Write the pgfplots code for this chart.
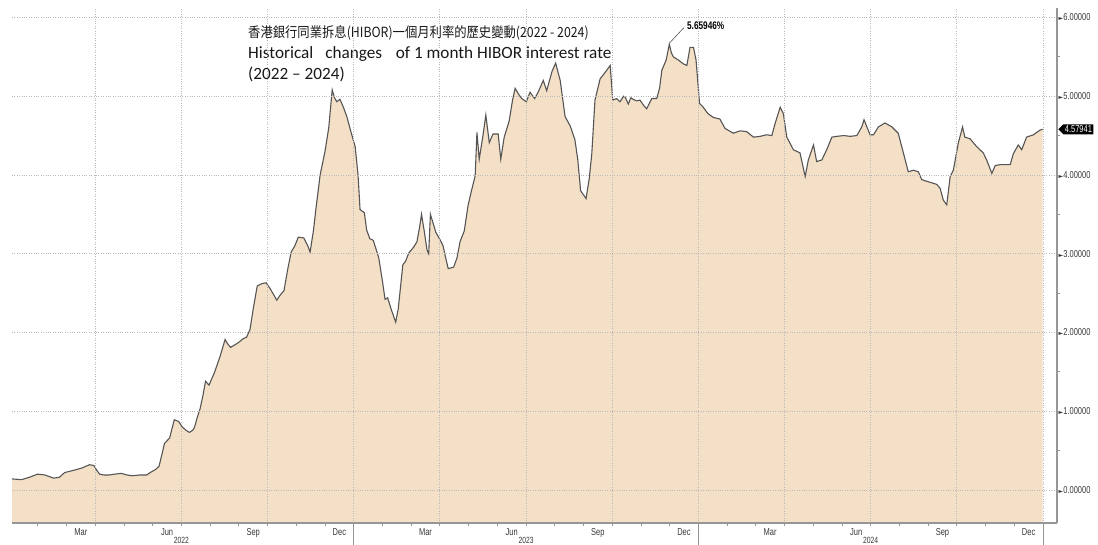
\documentclass[border=0pt]{standalone}
\usepackage{fontspec}
\setmainfont{Carlito}
\newfontfamily\cjk[FakeStretch=0.88]{Noto Sans CJK TC}
\newfontfamily\bbg[FakeStretch=0.75]{Liberation Sans}
\newfontfamily\dv{DejaVu Sans}
\usepackage{pgfplots}
\usepackage{pgfplotstable}
\pgfplotsset{compat=1.18}
\usepgfplotslibrary{fillbetween}
\usetikzlibrary{shapes.symbols}

\definecolor{peach}{RGB}{244,224,198}
\definecolor{linegray}{RGB}{85,85,85}
\definecolor{gridgray}{RGB}{185,185,185}
\definecolor{axgray}{RGB}{150,150,150}
\definecolor{labgray}{RGB}{55,55,55}
\definecolor{titlec}{RGB}{25,25,25}

% 1-month HIBOR, months since 1 Jan 2022
\pgfplotstableread{
m v
0.10 0.14
0.43 0.13
0.70 0.16
0.99 0.20
1.24 0.19
1.55 0.15
1.75 0.16
1.93 0.22
2.15 0.24
2.36 0.26
2.55 0.28
2.67 0.30
2.80 0.32
2.95 0.31
3.05 0.25
3.15 0.20
3.29 0.19
3.50 0.19
3.66 0.20
3.91 0.21
4.10 0.19
4.29 0.18
4.55 0.19
4.79 0.19
4.91 0.22
5.10 0.26
5.22 0.30
5.32 0.45
5.41 0.59
5.59 0.66
5.75 0.89
5.90 0.87
6.03 0.80
6.15 0.76
6.28 0.73
6.40 0.76
6.46 0.80
6.55 0.92
6.65 1.03
6.75 1.20
6.84 1.38
6.96 1.33
7.15 1.49
7.35 1.70
7.52 1.91
7.60 1.86
7.71 1.81
7.85 1.84
8.02 1.88
8.15 1.92
8.27 1.94
8.39 2.04
8.50 2.30
8.64 2.59
8.80 2.62
8.95 2.63
9.10 2.55
9.32 2.41
9.45 2.48
9.57 2.53
9.70 2.80
9.82 3.02
9.95 3.10
10.07 3.21
10.26 3.20
10.40 3.10
10.48 3.02
10.60 3.30
10.69 3.59
10.83 4.00
11.00 4.30
11.13 4.60
11.25 5.08
11.33 4.98
11.41 4.93
11.52 4.96
11.65 4.85
11.76 4.74
11.90 4.55
12.05 4.36
12.15 4.00
12.22 3.56
12.37 3.52
12.45 3.30
12.56 3.19
12.68 3.17
12.87 2.95
13.00 2.65
13.09 2.42
13.18 2.44
13.30 2.30
13.46 2.13
13.55 2.30
13.71 2.86
13.80 2.90
13.92 3.01
14.08 3.08
14.20 3.15
14.30 3.35
14.36 3.50
14.45 3.30
14.55 3.05
14.61 3.00
14.67 3.50
14.86 3.27
15.00 3.18
15.11 3.10
15.20 2.95
15.29 2.81
15.48 2.83
15.60 2.95
15.70 3.15
15.85 3.29
15.98 3.61
16.10 3.80
16.23 3.99
16.29 4.54
16.37 4.20
16.50 4.50
16.60 4.76
16.72 4.41
16.85 4.52
17.03 4.52
17.12 4.20
17.24 4.48
17.41 4.68
17.53 4.95
17.62 5.10
17.75 5.02
17.85 4.97
18.01 4.93
18.14 5.05
18.30 4.97
18.42 5.05
18.60 5.20
18.72 5.07
18.90 5.31
19.03 5.42
19.19 5.20
19.36 4.74
19.54 4.62
19.70 4.45
19.80 4.20
19.90 3.80
20.09 3.70
20.20 3.95
20.29 4.27
20.40 4.95
20.58 5.22
20.75 5.30
20.93 5.39
21.02 4.95
21.15 4.97
21.27 4.93
21.40 5.00
21.45 4.99
21.56 4.90
21.65 4.98
21.73 4.96
21.85 4.94
21.97 4.95
22.10 4.88
22.20 4.84
22.38 4.97
22.55 4.97
22.65 5.10
22.73 5.33
22.88 5.46
22.99 5.66
23.06 5.55
23.13 5.50
23.30 5.46
23.48 5.41
23.60 5.39
23.71 5.62
23.83 5.62
23.92 5.46
24.00 5.10
24.04 4.91
24.17 4.86
24.33 4.78
24.52 4.73
24.75 4.71
24.93 4.59
25.22 4.53
25.45 4.56
25.68 4.55
25.92 4.48
26.15 4.49
26.38 4.51
26.56 4.50
26.67 4.65
26.85 4.86
26.96 4.78
27.08 4.48
27.31 4.32
27.54 4.28
27.72 3.98
27.83 4.19
28.01 4.38
28.12 4.17
28.30 4.19
28.47 4.32
28.65 4.48
28.82 4.49
29.06 4.50
29.29 4.49
29.52 4.50
29.69 4.61
29.77 4.70
29.98 4.51
30.10 4.51
30.27 4.61
30.50 4.66
30.74 4.61
30.96 4.53
31.14 4.28
31.31 4.04
31.49 4.06
31.66 4.04
31.78 3.94
31.95 3.92
32.13 3.90
32.30 3.88
32.42 3.83
32.53 3.68
32.65 3.62
32.77 3.98
32.88 4.06
33.05 4.40
33.20 4.61
33.28 4.48
33.46 4.46
33.69 4.36
33.92 4.28
34.04 4.19
34.22 4.02
34.34 4.12
34.51 4.13
34.74 4.13
34.86 4.13
34.97 4.27
35.14 4.38
35.26 4.32
35.43 4.48
35.67 4.51
35.90 4.57
35.99 4.58
}\hibor

\begin{document}
\begin{tikzpicture}[x=1pt,y=1pt]
\begin{axis}[
  at={(12pt,22pt)}, anchor=south west,
  scale only axis, width=1045pt, height=515pt,
  xmin=0.1, xmax=36.49, ymin=-0.42, ymax=6.12,
  axis x line*=bottom, axis y line*=right,
  axis line style={draw=axgray, line width=1.8pt, -},
  axis on top,
  clip=false,
  xtick={2.5,5.5,...,35.5},
  xticklabels={Mar,Jun,Sep,Dec,Mar,Jun,Sep,Dec,Mar,Jun,Sep,Dec},
  minor xtick={1,2,...,36},
  extra x ticks={3,6,...,36},
  extra x tick labels={},
  extra x tick style={grid=major},
  ytick={0,1,...,6},
  minor ytick={0.5,1.5,...,5.5},
  ymajorgrids,
  major grid style={gridgray, dotted, line width=0.8pt},
  major tick length=0pt, minor tick length=3pt,
  tick align=outside,
  tick style={axgray, line width=0.8pt},
  /pgf/number format/assume math mode=true,
  ticklabel style={font=\bbg\fontsize{10}{10}\selectfont, text=labgray},
  xticklabel style={yshift=-2pt},
  yticklabel pos=right,
  yticklabel={{\dv\fontsize{6}{6}\selectfont ►}\pgfmathprintnumber[fixed,fixed zerofill,precision=5]{\tick}},
  yticklabel style={anchor=west, inner sep=0pt, xshift=1.5pt},
]
\addplot[draw=none, name path=top] table[x=m, y=v] {\hibor};
\addplot[draw=none, name path=base] coordinates {(0.10,-0.42) (35.99,-0.42)};
\addplot[fill=peach, draw=none] fill between[of=top and base];
\addplot[linegray, line width=1.1pt] table[x=m, y=v] {\hibor};

% year separators and labels
\draw[axgray, line width=0.8pt] (axis cs:12,-0.42) -- ([yshift=-25pt]axis cs:12,-0.42);
\draw[axgray, line width=0.8pt] (axis cs:24,-0.42) -- ([yshift=-25pt]axis cs:24,-0.42);
\draw[axgray, line width=0.8pt] (axis cs:36,-0.42) -- ([yshift=-25pt]axis cs:36,-0.42);
\node[anchor=north, inner sep=0pt, yshift=-14.5pt, text=labgray, font=\bbg\fontsize{9}{9}\selectfont] at (axis cs:6,-0.42) {2022};
\node[anchor=north, inner sep=0pt, yshift=-14.5pt, text=labgray, font=\bbg\fontsize{9}{9}\selectfont] at (axis cs:18,-0.42) {2023};
\node[anchor=north, inner sep=0pt, yshift=-14.5pt, text=labgray, font=\bbg\fontsize{9}{9}\selectfont] at (axis cs:30,-0.42) {2024};

% peak annotation
\draw[linegray, line width=0.6pt] (axis cs:22.99,5.66) ++(0.5pt,1.5pt) -- ++(14pt,15pt)
  node[anchor=base west, inner sep=0pt, xshift=3pt, yshift=-2pt, text=black,
       font=\bbg\bfseries\fontsize{11}{11}\selectfont] {5.65946\%};

% last value box
\node[signal, signal to=west, fill=black, text=white, inner xsep=1.5pt, inner ysep=1.5pt,
      anchor=west, xshift=1pt, font=\bbg\fontsize{10}{10}\selectfont]
      at (axis cs:36.49,4.57941) {4.57941};
\end{axis}

\node[anchor=base west, inner sep=0pt, text=titlec] at (248,507)
  {\cjk\fontsize{14}{14}\selectfont 香港銀行同業拆息(HIBOR)一個月利率的歷史變動(2022 - 2024)};
\node[anchor=base west, inner sep=0pt, text=titlec] at (248,486)
  {\fontsize{17.2}{17.2}\selectfont Historical\hspace{0.7em}changes\hspace{0.8em}of 1 month HIBOR interest rate};
\node[anchor=base west, inner sep=0pt, text=titlec] at (248,465)
  {\fontsize{17.2}{17.2}\selectfont (2022 – 2024)};

\pgfresetboundingbox
\useasboundingbox (0,0) rectangle (1098,545);
\end{tikzpicture}
\end{document}
